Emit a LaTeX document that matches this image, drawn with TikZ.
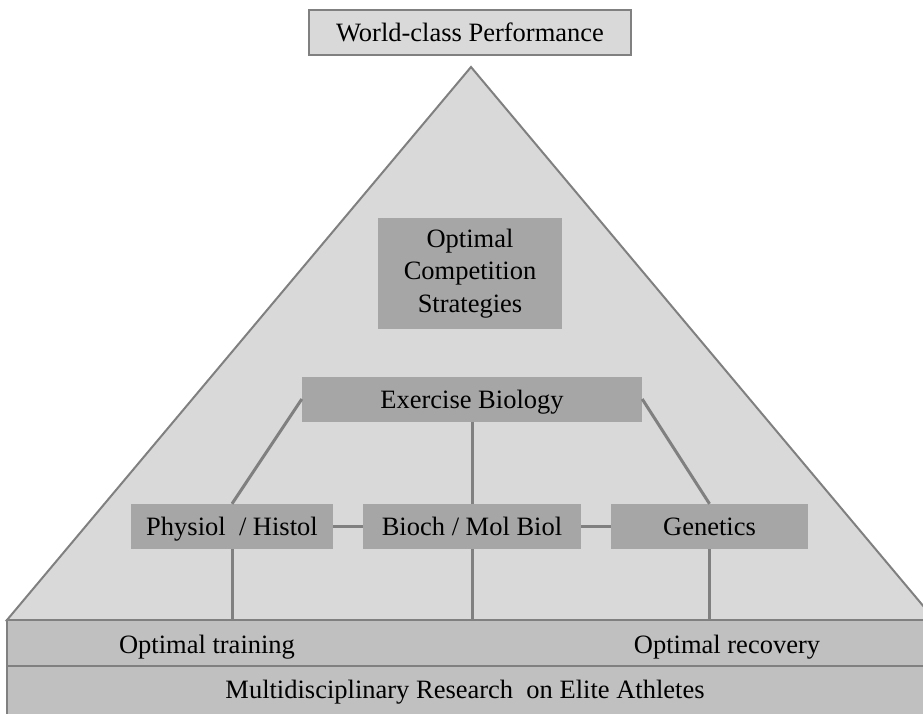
\documentclass[tikz,border=0pt]{standalone}
\usepackage{fontspec}
\setmainfont{Liberation Serif}
\usepackage{xcolor}
\definecolor{pyramid}{RGB}{217,217,217}
\definecolor{block}{RGB}{166,166,166}
\definecolor{band}{RGB}{192,192,192}
\definecolor{edge}{RGB}{128,128,128}
\tikzset{
    field/.style = {fill=block, inner sep=0pt, minimum height=45pt,
        align=center, font=\fontsize{26.5}{32.5}\selectfont},
    oneline/.style = {text height=20pt, text depth=2pt},
    link/.style = {draw=edge, line width=3pt},
    label/.style = {inner sep=0pt, oneline, font=\fontsize{26.5}{32.5}\selectfont},
}

\begin{document}
\begin{tikzpicture}[x=1pt,y=-1pt]
\clip (0,0) rectangle (923,713);

% pyramid and base bands
\coordinate (apex) at (471,67);
\coordinate (base) at (0,620);
\fill[pyramid, draw=edge, line width=2pt] (apex) -- (7,620) -- (935,620) -- cycle;
\filldraw[band, draw=edge, line width=1.5pt] (7,620) rectangle (935,730);
\draw[edge, line width=1.5pt] (7,666) -- (935,666);

\node[field, oneline, fill=pyramid, draw=edge, line width=1.5pt, minimum width=322pt] (top) at (470,32.5) {World-class Performance};
\node[field, minimum width=184pt, minimum height=111pt] (ocs) at (470,273.5) {Optimal\\Competition\\Strategies};
\node[field, oneline, minimum width=340pt] (eb) at (472,399) {Exercise Biology};

\node[field, oneline, minimum width=202pt] (phys) at (232,526.5) {Physiol ~/ Histol};
\node[field, oneline, minimum width=218pt] (bio) at (472,526.5) {Bioch / Mol Biol};
\node[field, oneline, minimum width=197pt] (gen) at (709.5,526.5) {Genetics};

\draw[link] (eb.west) -- (phys.north);
\draw[link] (eb.east) -- (gen.north);
\draw[link] (eb.south) -- (bio.north);
\draw[link] (phys.east) -- (bio.west);
\draw[link] (bio.east) -- (gen.west);
\draw[link] (phys.south) -- (phys.south |- base);
\draw[link] (bio.south) -- (bio.south |- base);
\draw[link] (gen.south) -- (gen.south |- base);

\node[label] (train) at (207,644) {Optimal training};
\node[label] (recov) at (727,644) {Optimal recovery};
\node[label] (research) at (465,689) {Multidisciplinary Research ~on Elite Athletes};
\end{tikzpicture}
\end{document}
